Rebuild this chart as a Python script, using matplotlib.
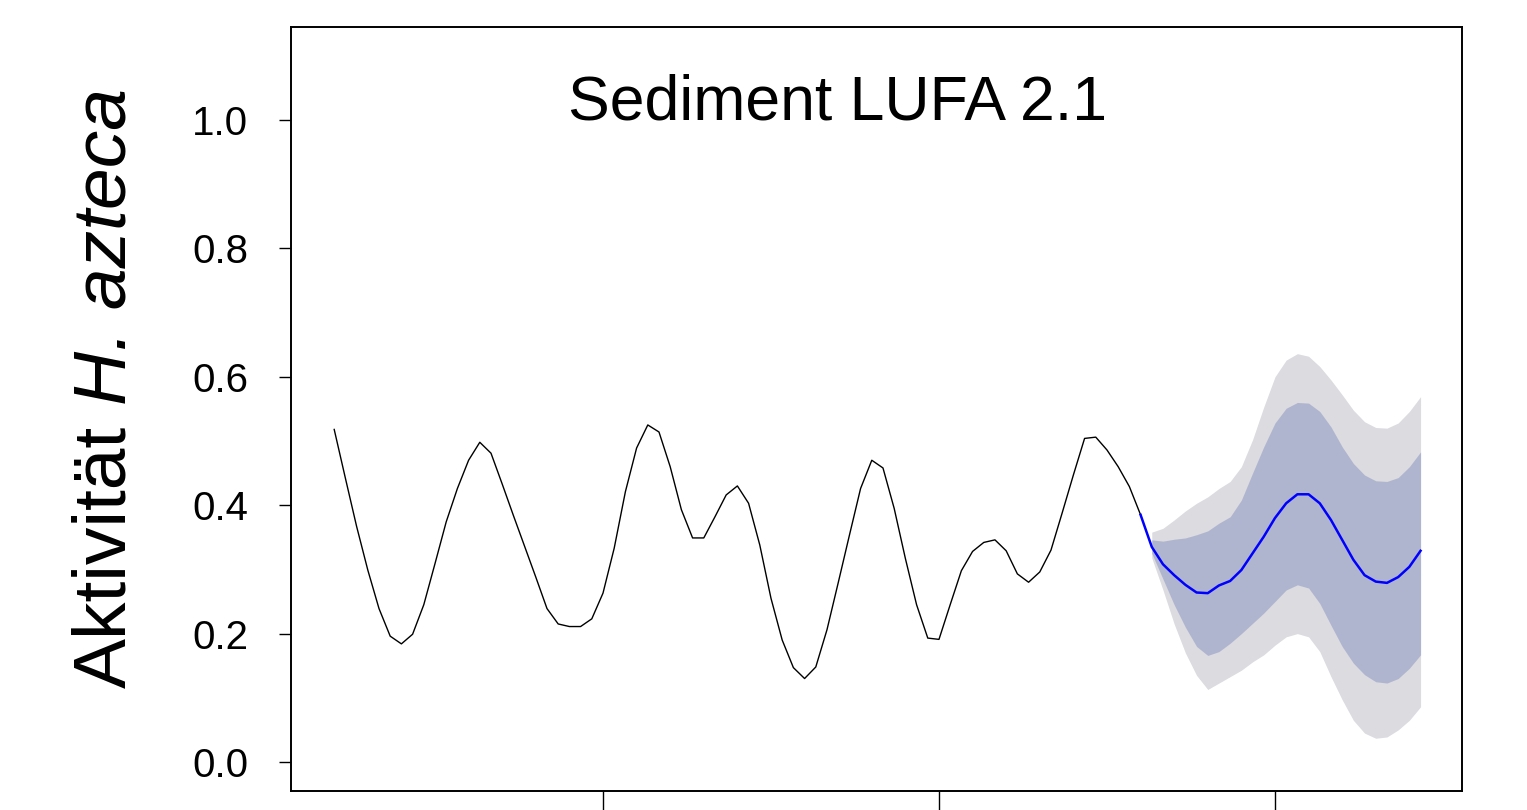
import numpy as np
import matplotlib
matplotlib.use("Agg")
import matplotlib.pyplot as plt

# ---------------- data ----------------
obs_start = 6
obs_values = [0.518, 0.442, 0.367, 0.299, 0.239, 0.196, 0.184, 0.199, 0.245, 0.309,
              0.374, 0.426, 0.470, 0.498, 0.481, 0.433, 0.384, 0.336, 0.288, 0.239,
              0.215, 0.211, 0.211, 0.223, 0.263, 0.333, 0.421, 0.489, 0.525, 0.514,
              0.460, 0.393, 0.349, 0.349, 0.382, 0.416, 0.430, 0.403, 0.338, 0.255,
              0.190, 0.147, 0.130, 0.148, 0.206, 0.279, 0.353, 0.426, 0.470, 0.458,
              0.395, 0.317, 0.245, 0.193, 0.191, 0.245, 0.298, 0.328, 0.342, 0.346,
              0.329, 0.293, 0.280, 0.296, 0.330, 0.388, 0.447, 0.504, 0.506, 0.486,
              0.460, 0.429, 0.385]

fc_mean = [0.335, 0.308, 0.291, 0.276, 0.264, 0.263, 0.275, 0.282, 0.299, 0.325,
           0.351, 0.380, 0.403, 0.417, 0.417, 0.403, 0.377, 0.346, 0.315, 0.291,
           0.281, 0.279, 0.288, 0.304, 0.329]
fc_lo80 = [0.325, 0.285, 0.245, 0.210, 0.180, 0.166, 0.172, 0.185, 0.200, 0.216,
           0.232, 0.250, 0.268, 0.276, 0.271, 0.247, 0.213, 0.180, 0.154, 0.136,
           0.125, 0.123, 0.130, 0.146, 0.167]
fc_hi80 = [0.346, 0.344, 0.347, 0.349, 0.354, 0.360, 0.372, 0.382, 0.408, 0.450,
           0.491, 0.528, 0.551, 0.560, 0.559, 0.546, 0.522, 0.491, 0.465, 0.447,
           0.438, 0.437, 0.443, 0.460, 0.483]
fc_lo95 = [0.318, 0.268, 0.215, 0.170, 0.135, 0.113, 0.123, 0.133, 0.143, 0.156,
           0.167, 0.182, 0.195, 0.200, 0.195, 0.172, 0.133, 0.097, 0.065, 0.045,
           0.037, 0.039, 0.050, 0.065, 0.086]
fc_hi95 = [0.358, 0.364, 0.377, 0.391, 0.403, 0.413, 0.426, 0.437, 0.460, 0.502,
           0.553, 0.600, 0.626, 0.636, 0.632, 0.616, 0.595, 0.572, 0.548, 0.530,
           0.521, 0.520, 0.528, 0.546, 0.569]

x_ticks = [30, 60, 90]
y_ticks = [0.0, 0.2, 0.4, 0.6, 0.8, 1.0]
y_ticklabels = ["0.0", "0.2", "0.4", "0.6", "0.8", "1.0"]
title = "Sediment LUFA 2.1"
ylabel_plain = "Aktivität"
ylabel_italic = "H. azteca"

# ---------------- plot ----------------
plt.rcParams["font.family"] = ["Liberation Sans", "DejaVu Sans"]

obs_t = np.arange(obs_start, obs_start + len(obs_values))
fc_t = np.arange(obs_t[-1] + 1, obs_t[-1] + 1 + len(fc_mean))

W, H = 1527, 810
fig = plt.figure(figsize=(W / 100, H / 100), dpi=100)
ax = fig.add_axes([290.7 / W, 1 - 790.7 / H, (1462 - 290.7) / W, (790.7 - 26.7) / H])

ax.fill_between(fc_t, fc_lo95, fc_hi95, color="#DBDBE0", linewidth=0)
ax.fill_between(fc_t, fc_lo80, fc_hi80, color="#B0B5CF", linewidth=0)
ax.plot(obs_t, obs_values, color="black", lw=1.0)
ax.plot(np.concatenate([[obs_t[-1]], fc_t]), [obs_values[-1]] + fc_mean,
        color="#0000FF", lw=1.8)

ax.set_xlim(2.116, 106.7)
ax.set_ylim(-0.0447, 1.1453)
ax.set_xticks(x_ticks)
ax.set_xticklabels([])
ax.set_yticks(y_ticks)
ax.set_yticklabels(y_ticklabels)
ax.tick_params(axis="y", length=8.6, width=1.0, pad=22, labelsize=29)
ax.tick_params(axis="x", length=15, width=1.0)
for s in ax.spines.values():
    s.set_linewidth(1.4)
    s.set_color("black")

fig.text(838 / W, 1 - 120 / H, title, ha="center", va="baseline", fontsize=45)

# y label: plain part followed by italic part, reading bottom to top
fs_lab = 54
x_base = 125 / W
y_start_px = H - 688
renderer = fig.canvas.get_renderer()
t1 = fig.text(x_base, y_start_px / H, ylabel_plain, rotation=90, rotation_mode="anchor",
              ha="left", va="baseline", fontsize=fs_lab)
probe_a = fig.text(0, 0, "a a", fontsize=fs_lab)
probe_b = fig.text(0, 0, "aa", fontsize=fs_lab)
space_px = (probe_a.get_window_extent(renderer).width
            - probe_b.get_window_extent(renderer).width)
probe_a.remove()
probe_b.remove()
len1 = t1.get_window_extent(renderer).height
fig.text(x_base, (y_start_px + len1 + space_px) / H, ylabel_italic, rotation=90,
         rotation_mode="anchor", ha="left", va="baseline", fontsize=fs_lab,
         style="italic")

fig.savefig("out.png", dpi=100)
